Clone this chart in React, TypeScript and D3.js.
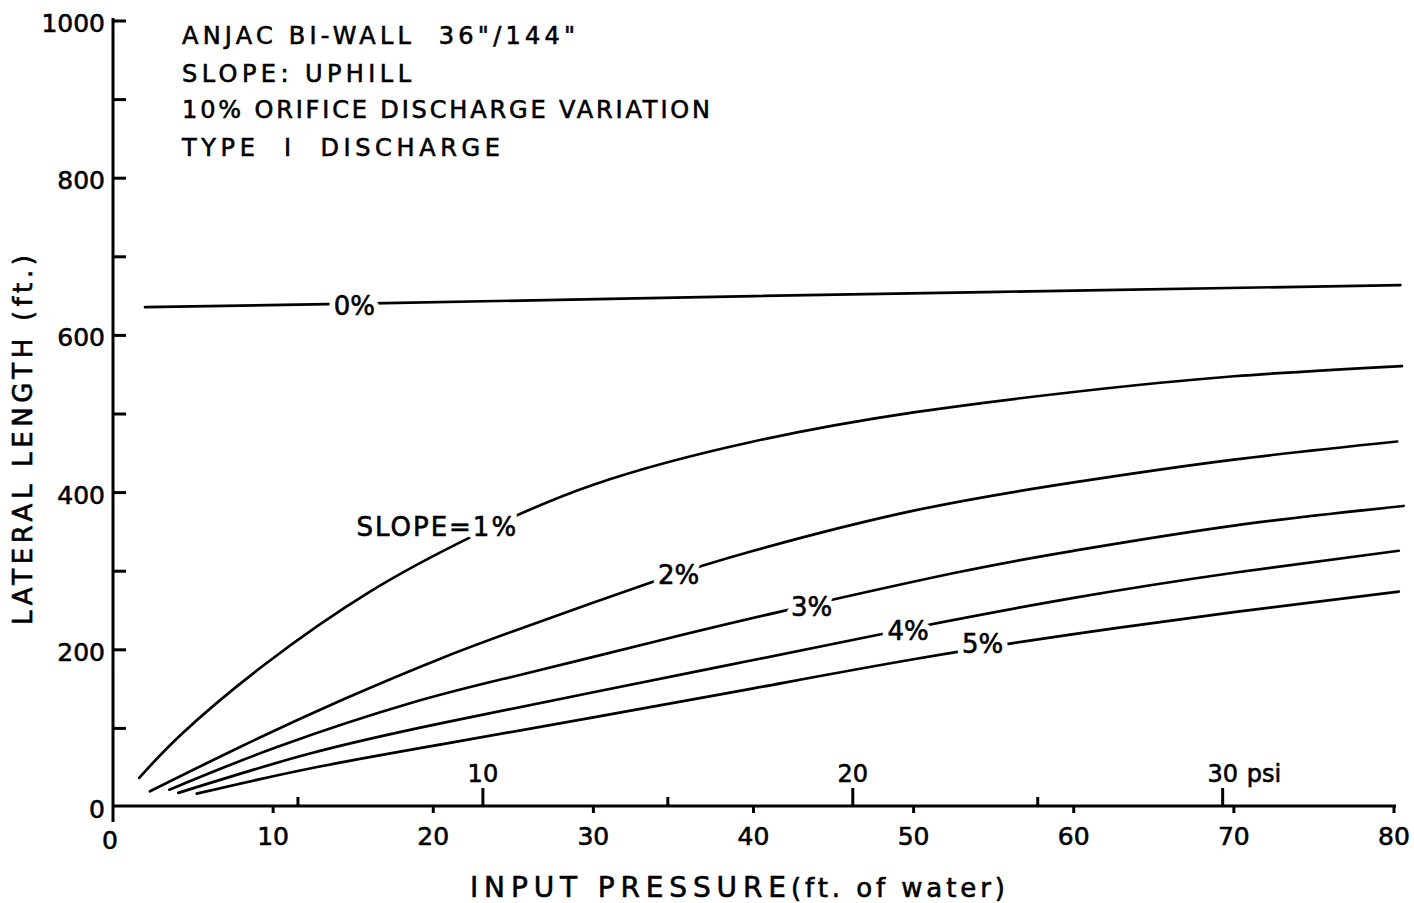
import React from 'react'
import * as d3 from 'd3'

// pressure (ft of water) vs lateral length (ft)
const slope0: [number, number][] = [
  [2.0, 636], [17, 641], [40, 650], [60, 657], [80.4, 664],
]
const slope1: [number, number][] = [
  [1.64, 37], [4.29, 93], [9.39, 180], [16.05, 274], [22.4, 344], [30, 410],
  [40, 465], [50, 502], [60, 528], [70, 548], [80.5, 561],
]
const slope2: [number, number][] = [
  [2.31, 20], [8, 77], [14.4, 137], [20.6, 190], [26, 231], [33.5, 285],
  [40, 326], [50, 377], [60, 413], [70, 442], [80.2, 465],
]
const slope3: [number, number][] = [
  [3.52, 22], [10.2, 76], [18.55, 132], [25.4, 168], [33.75, 210], [41.55, 248],
  [52.6, 298], [60, 326], [70, 358], [80.6, 383],
]
const slope4: [number, number][] = [
  [4.08, 18], [12.3, 68], [20.6, 107], [30, 146], [40, 187], [50, 228],
  [60, 266], [70, 298], [80.3, 326],
]
const slope5: [number, number][] = [
  [5.23, 17], [12.3, 49], [20.6, 80], [30, 114], [40, 151], [50, 188],
  [60, 220], [70, 248], [80.3, 274],
]
const series = [slope0, slope1, slope2, slope3, slope4, slope5]

const curveLabels = ['0%', 'SLOPE=1%', '2%', '3%', '4%', '5%']
const labelAnchors: [number, number][] = [
  [15.08, 638], [25.3, 355.6], [35.32, 295.2], [43.63, 254.5], [49.66, 223.4], [54.31, 207.4],
]

const xTicks = [10, 20, 30, 40, 50, 60, 70, 80]
const yTicks = [100, 200, 300, 400, 500, 600, 700, 800, 900, 1000]
const yTickLabels = [0, 200, 400, 600, 800, 1000]
const psiTicks = [5, 10, 15, 20, 25, 30]
const psiLabels = [10, 20, 30]
const FT_PER_PSI = 2.31

const titleLines = [
  'ANJAC BI-WALL  36"/144"',
  'SLOPE: UPHILL',
  '10% ORIFICE DISCHARGE VARIATION',
  'TYPE  I  DISCHARGE',
]
const titleWidths = [393, 229, 528, 318]
const titleBaselines = [44, 82, 118, 156]

const FONT = '"DejaVu Sans", sans-serif'
const INK = { fill: '#000', stroke: '#000', strokeWidth: 0.6 }

export default function App() {
  const width = 1414
  const height = 903
  const x = d3.scaleLinear().domain([0, 80]).range([113, 1394])
  const y = d3.scaleLinear().domain([0, 1000]).range([807, 21])
  const line = d3
    .line<[number, number]>()
    .x((d) => x(d[0]))
    .y((d) => y(d[1]))
    .curve(d3.curveNatural)

  const x0 = x(0)
  const y0 = y(0)

  const labelProps = (i: number) => {
    const [lx, ly] = labelAnchors[i]
    const isSlope = i === 1
    return {
      x: x(lx),
      y: y(ly) + 9,
      textAnchor: isSlope ? 'end' : 'middle',
      letterSpacing: isSlope ? 2 : 0,
    }
  }

  return (
    <svg
      width={width}
      height={height}
      style={{ position: 'absolute', left: 0, top: 0, background: '#fff' }}
      fontFamily={FONT}
    >
      <rect width={width} height={height} fill="#fff" />

      {/* curves */}
      <g fill="none" stroke="#000" strokeWidth={2.7} strokeLinecap="round">
        {series.map((s, i) => (
          <path key={i} d={line(s) || ''} />
        ))}
      </g>

      {/* curve labels: white halo cuts the lines, then the ink */}
      <g fontSize={26}>
        {curveLabels.map((t, i) => (
          <text
            key={'h' + t}
            {...(labelProps(i) as any)}
            fill="#fff"
            stroke="#fff"
            strokeWidth={12}
            strokeLinejoin="round"
          >
            {t}
          </text>
        ))}
        {curveLabels.map((t, i) => (
          <text key={t} {...(labelProps(i) as any)} {...INK}>
            {t}
          </text>
        ))}
      </g>

      {/* axes */}
      <g stroke="#000" strokeWidth={3} fill="none">
        <line x1={x0} y1={18} x2={x0} y2={822} />
        <line x1={x0} y1={y0 - 1} x2={x(80) + 2} y2={y0 - 1} />
        {yTicks.map((t) => (
          <line key={t} x1={x0} x2={x0 + 13} y1={y(t)} y2={y(t)} />
        ))}
        {xTicks.map((t) => (
          <line key={t} x1={x(t)} x2={x(t)} y1={y0 - 1} y2={y0 + 6} />
        ))}
        {psiTicks.map((p) => (
          <line
            key={p}
            x1={x(p * FT_PER_PSI)}
            x2={x(p * FT_PER_PSI)}
            y1={y0 - 1}
            y2={y0 - (p % 10 === 0 ? 19 : 10)}
          />
        ))}
      </g>

      {/* tick labels */}
      <g fontSize={25} {...INK}>
        {yTickLabels.map((t) => (
          <text key={t} x={105} y={y(t) + 11} textAnchor="end">
            {t}
          </text>
        ))}
        <text x={x0 - 3} y={849} textAnchor="middle">0</text>
        {xTicks.map((t) => (
          <text key={t} x={x(t)} y={845} textAnchor="middle">
            {t}
          </text>
        ))}
        {psiLabels.map((p) => (
          <text key={p} x={x(p * FT_PER_PSI)} y={782} textAnchor="middle" fontSize={24}>
            {p}
          </text>
        ))}
        <text x={x(30 * FT_PER_PSI) + 24} y={782} fontSize={24}>psi</text>
      </g>

      {/* title block */}
      <g fontSize={24} {...INK}>
        {titleLines.map((t, i) => (
          <text
            key={i}
            x={182}
            y={titleBaselines[i]}
            textLength={titleWidths[i]}
            lengthAdjust="spacing"
            style={{ whiteSpace: 'pre' }}
          >
            {t}
          </text>
        ))}
      </g>

      {/* axis titles */}
      <text
        transform="translate(32,440) rotate(-90)"
        textAnchor="middle"
        fontSize={26}
        textLength={370}
        lengthAdjust="spacing"
        {...INK}
      >
        LATERAL LENGTH (ft.)
      </text>
      <text x={470} y={897} fontSize={28} textLength={316} lengthAdjust="spacing" {...INK}>
        INPUT PRESSURE
      </text>
      <text x={791} y={897} fontSize={26} textLength={214} lengthAdjust="spacing" {...INK}>
        (ft. of water)
      </text>
    </svg>
  )
}
